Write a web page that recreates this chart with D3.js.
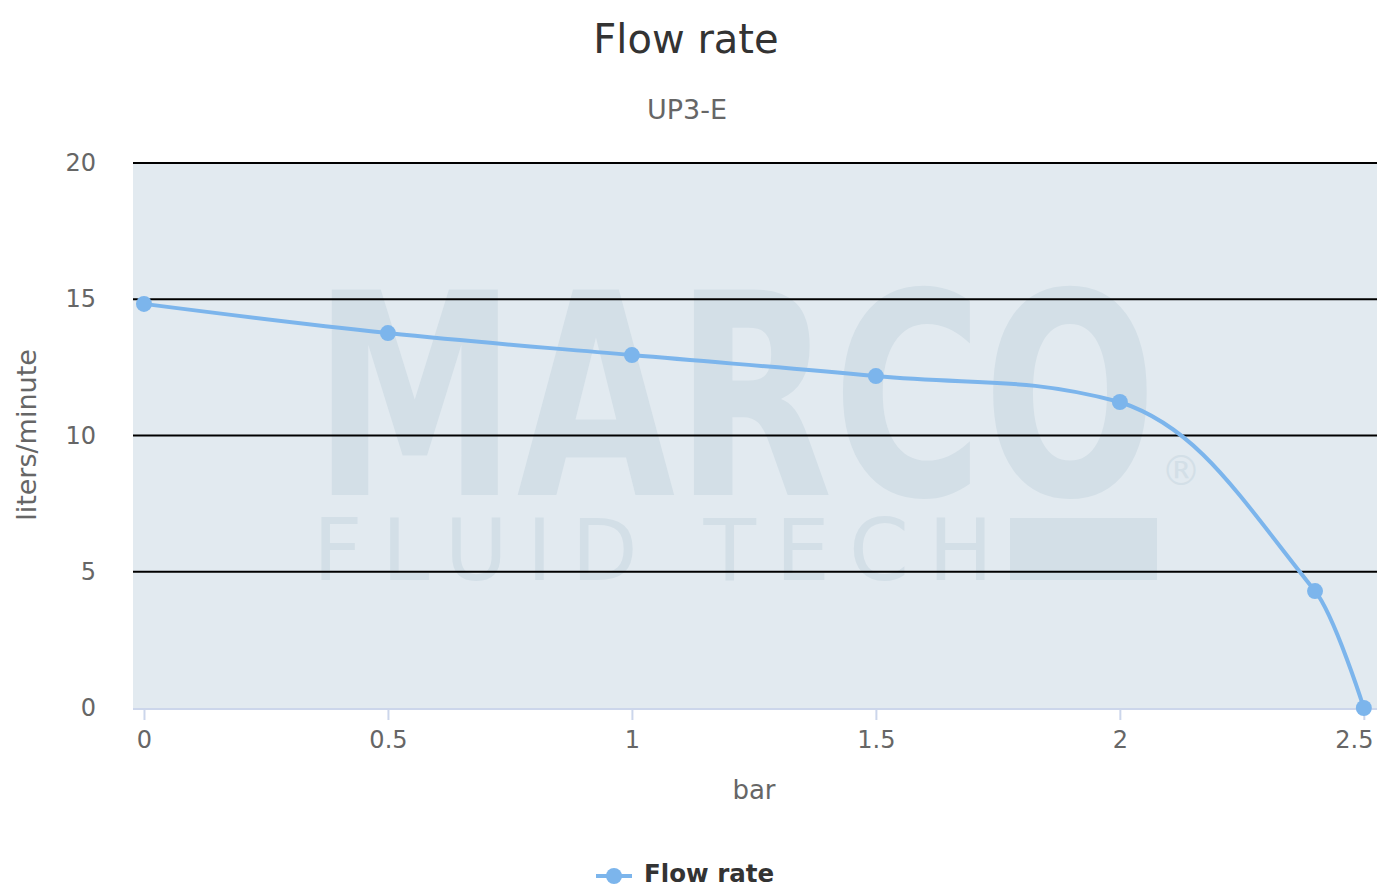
<!DOCTYPE html>
<html>
<head>
<meta charset="utf-8">
<script src="https://cdn.jsdelivr.net/npm/d3@7"></script>
<style>
  body { margin: 0; background: #fff; }
  text { font-family: "DejaVu Sans", sans-serif; }
</style>
</head>
<body>
<div id="chart"></div>
<script>
// data
var pressure = [0, 0.5, 1, 1.5, 2, 2.4, 2.5];
var flow = [14.83, 13.76, 12.95, 12.18, 11.23, 4.29, 0];
var yTicks = [0, 5, 10, 15, 20];
var xTicks = [0, 0.5, 1, 1.5, 2, 2.5];

var W = 1379, H = 888;
var plot = {left: 133, right: 1377, top: 163, bottom: 708};

var svg = d3.select("#chart").append("svg")
  .attr("width", W).attr("height", H);

var x = d3.scaleLinear().domain([-0.0225, 2.527]).range([plot.left, plot.right]);
var y = d3.scaleLinear().domain([0, 20]).range([plot.bottom, plot.top]);

// plot background
svg.append("rect")
  .attr("x", plot.left).attr("y", plot.top)
  .attr("width", plot.right - plot.left).attr("height", plot.bottom - plot.top)
  .attr("fill", "#e2eaf0");

// watermark
var wm = svg.append("g").attr("fill", "#d3dfe7");
wm.append("text").attr("x", 313).attr("y", 495)
  .attr("textLength", 844).attr("lengthAdjust", "spacingAndGlyphs")
  .style("font-size", "282px").style("font-weight", "bold").text("MARCO");
wm.append("text").attr("x", 313).attr("y", 580)
  .attr("textLength", 680).attr("lengthAdjust", "spacing")
  .style("font-size", "86px").text("FLUID TECH");
wm.append("rect").attr("x", 1010).attr("y", 518).attr("width", 147).attr("height", 62);
wm.append("text").attr("x", 1181).attr("y", 485).attr("text-anchor", "middle")
  .style("font-size", "40px").text("®");

// grid lines
svg.append("g").selectAll("line")
  .data(yTicks.filter(function(d){ return d > 0; }))
  .enter().append("line")
  .attr("x1", plot.left).attr("x2", plot.right)
  .attr("y1", function(d){ return y(d); }).attr("y2", function(d){ return y(d); })
  .attr("stroke", "#000").attr("stroke-width", 2);

// y axis labels
svg.append("g").selectAll("text")
  .data(yTicks).enter().append("text")
  .attr("x", 96).attr("y", function(d){ return y(d) + 8; })
  .attr("text-anchor", "end")
  .style("font-size", "24px").attr("fill", "#666")
  .text(function(d){ return d; });

// x axis
var xAxis = svg.append("g")
  .attr("transform", "translate(0," + (plot.bottom + 1) + ")")
  .call(d3.axisBottom(x).tickValues(xTicks).tickSize(11).tickPadding(11).tickFormat(function(d){ return d; }));
xAxis.select(".domain").attr("stroke", "#ccd6eb").attr("stroke-width", 2)
  .attr("d", "M" + plot.left + ",0H" + plot.right);
xAxis.selectAll(".tick line").attr("stroke", "#ccd6eb").attr("stroke-width", 2);
xAxis.selectAll(".tick text").style("font-size", "24px").attr("fill", "#666")
  .style("font-family", "DejaVu Sans, sans-serif");
// keep the last label inside the chart, like the original
xAxis.selectAll(".tick text").filter(function(d){ return d === 2.5; }).attr("dx", -10);

// axis titles
svg.append("text").attr("x", 754).attr("y", 799).attr("text-anchor", "middle")
  .style("font-size", "26px").attr("fill", "#666").text("bar");
svg.append("text").attr("transform", "translate(36,435) rotate(-90)")
  .attr("text-anchor", "middle")
  .style("font-size", "27px").attr("fill", "#666").text("liters/minute");

// titles
svg.append("text").attr("x", 686).attr("y", 53).attr("text-anchor", "middle")
  .style("font-size", "40px").attr("fill", "#333").text("Flow rate");
svg.append("text").attr("x", 687).attr("y", 119).attr("text-anchor", "middle")
  .style("font-size", "27px").attr("fill", "#666").text("UP3-E");

// spline like highcharts
var pts = pressure.map(function(p, i){ return {px: x(p), py: y(flow[i])}; });
function splinePath(pts) {
  var sm = 1.5, den = sm + 1;
  var path = d3.path();
  pts.forEach(function(p, i){
    if (i === 0) { path.moveTo(p.px, p.py); return; }
    var last = pts[i - 1];
    var lcx = p.px, lcy = p.py;
    if (i < pts.length - 1) {
      var next = pts[i + 1];
      lcx = (sm * p.px + last.px) / den;
      lcy = (sm * p.py + last.py) / den;
      var rcx = (sm * p.px + next.px) / den;
      var rcy = (sm * p.py + next.py) / den;
      var corr = 0;
      if (rcx !== lcx) corr = ((rcy - lcy) * (rcx - p.px)) / (rcx - lcx) + p.py - rcy;
      lcy += corr; rcy += corr;
      if (lcy > last.py && lcy > p.py) { lcy = Math.max(last.py, p.py); rcy = 2 * p.py - lcy; }
      else if (lcy < last.py && lcy < p.py) { lcy = Math.min(last.py, p.py); rcy = 2 * p.py - lcy; }
      if (rcy > next.py && rcy > p.py) { rcy = Math.max(next.py, p.py); lcy = 2 * p.py - rcy; }
      else if (rcy < next.py && rcy < p.py) { rcy = Math.min(next.py, p.py); lcy = 2 * p.py - rcy; }
      p.rcx = rcx; p.rcy = rcy;
    }
    path.bezierCurveTo(last.rcx !== undefined ? last.rcx : last.px,
      last.rcy !== undefined ? last.rcy : last.py, lcx, lcy, p.px, p.py);
  });
  return path.toString();
}

svg.append("path").attr("d", splinePath(pts))
  .attr("fill", "none").attr("stroke", "#7cb5ec").attr("stroke-width", 4)
  .attr("stroke-linecap", "round").attr("stroke-linejoin", "round");

svg.append("g").selectAll("circle")
  .data(pressure).enter().append("circle")
  .attr("cx", function(d){ return x(d); })
  .attr("cy", function(d, i){ return y(flow[i]); })
  .attr("r", 8).attr("fill", "#7cb5ec");

// legend
var lg = svg.append("g");
lg.append("line").attr("x1", 596).attr("x2", 632).attr("y1", 876).attr("y2", 876)
  .attr("stroke", "#7cb5ec").attr("stroke-width", 4);
lg.append("circle").attr("cx", 614).attr("cy", 876).attr("r", 8).attr("fill", "#7cb5ec");
lg.append("text").attr("x", 644).attr("y", 882)
  .style("font-size", "24.5px").style("font-weight", "bold").attr("fill", "#333").text("Flow rate");
</script>
</body>
</html>
